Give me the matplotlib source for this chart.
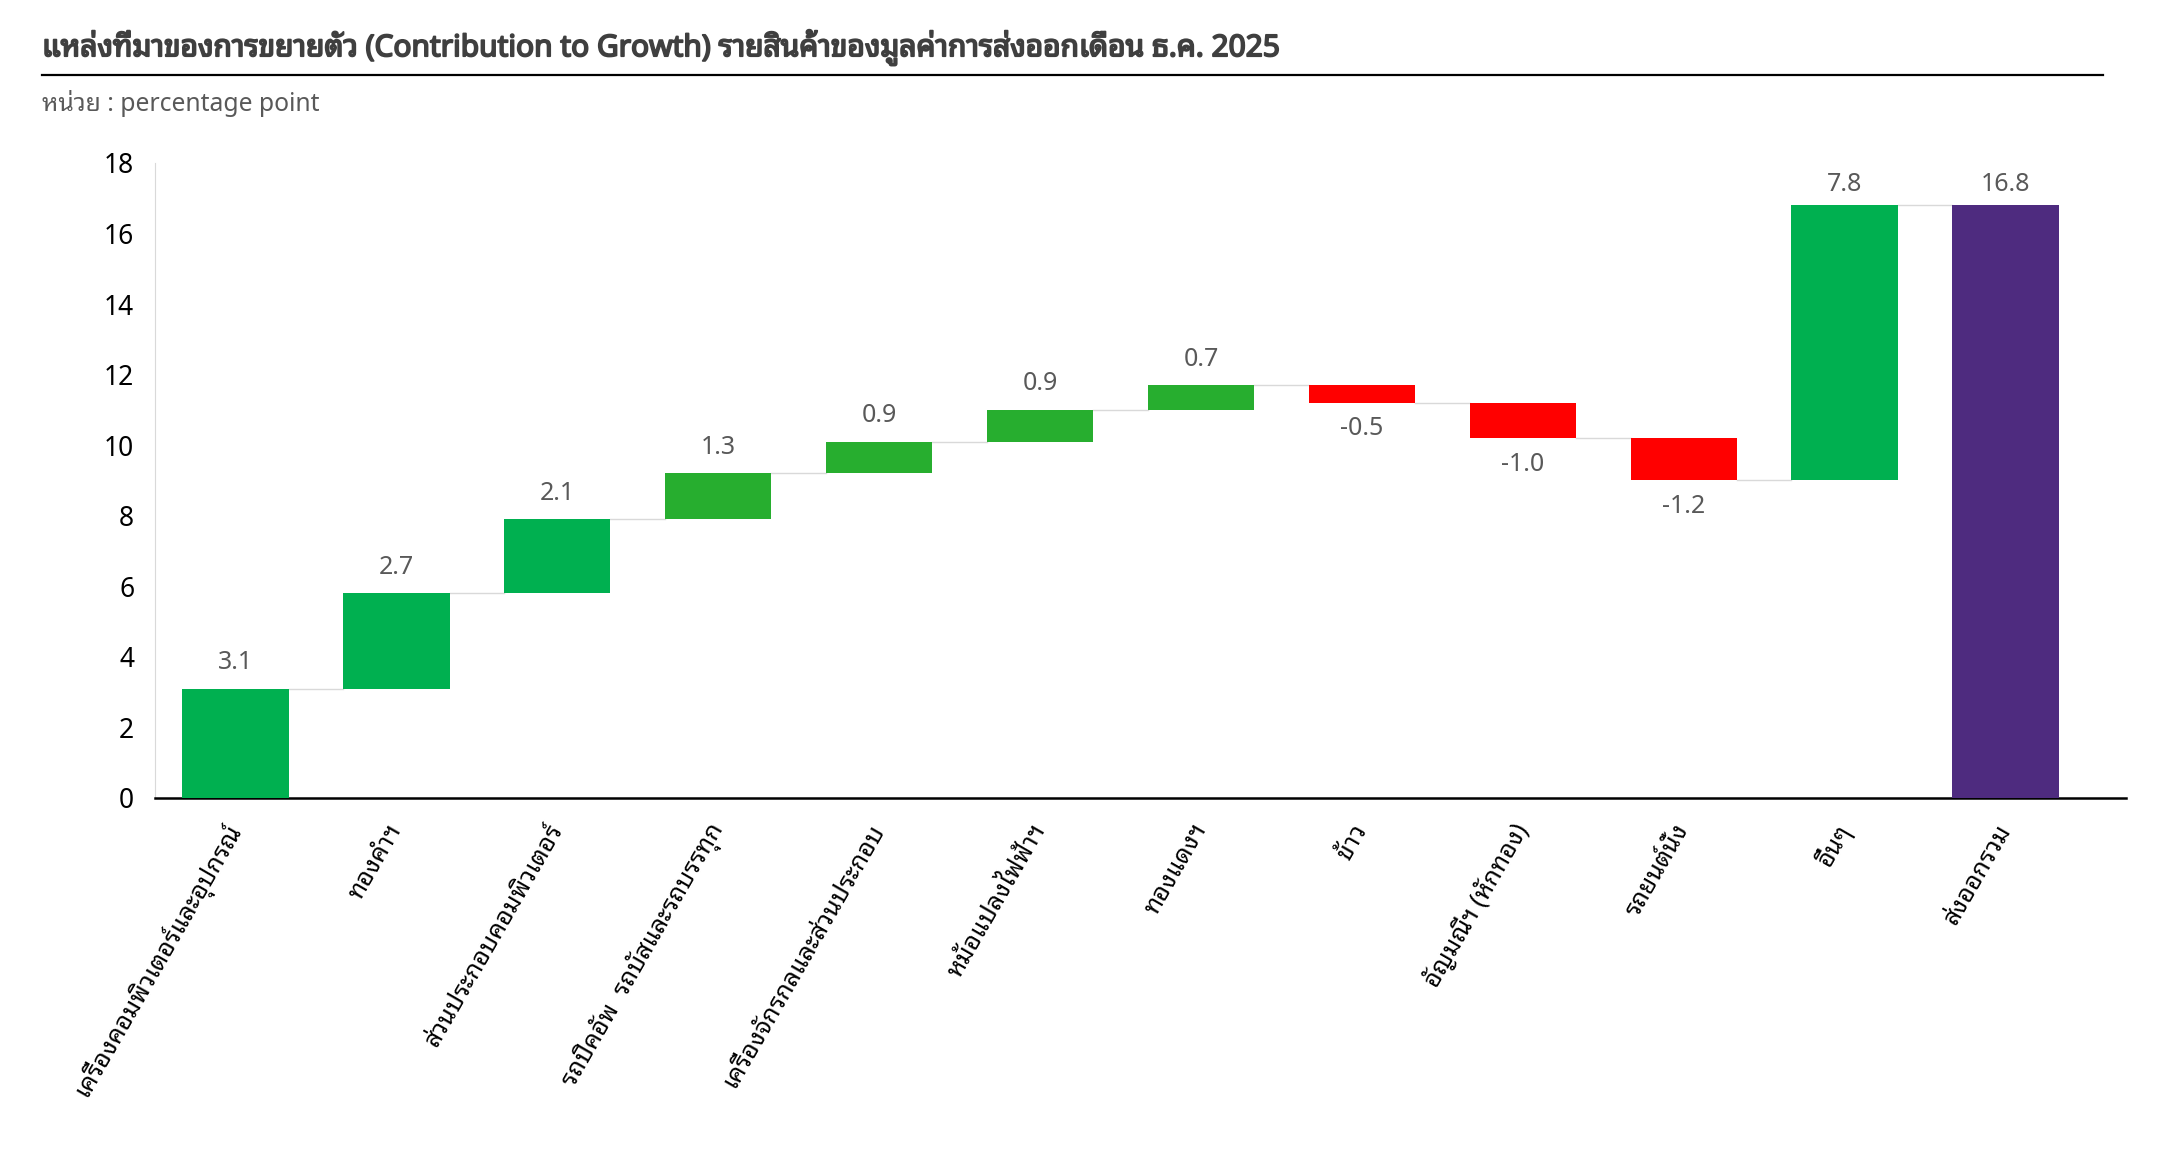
import numpy as np
import matplotlib
matplotlib.use("Agg")
import matplotlib.pyplot as plt
import matplotlib.patheffects as pe

plt.rcParams["font.family"] = ["Noto Sans Thai Looped", "Noto Sans", "DejaVu Sans"]

categories = [
    "เครื่องคอมพิวเตอร์และอุปกรณ์",
    "ทองคำฯ",
    "ส่วนประกอบคอมพิวเตอร์",
    "รถปิคอัพ  รถบัสและรถบรรทุก",
    "เครื่องจักรกลและส่วนประกอบ",
    "หม้อแปลงไฟฟ้าฯ",
    "ทองแดงฯ",
    "ข้าว",
    "อัญมณีฯ (หักทอง)",
    "รถยนต์นั่ง",
    "อื่นๆ",
]
contrib = [3.1, 2.7, 2.1, 1.3, 0.9, 0.9, 0.7, -0.5, -1.0, -1.2, 7.8]
total_label = "ส่งออกรวม"
total = 16.8
bar_colors = ["#00B050", "#00B050", "#00B050", "#27AE2F", "#27AE2F", "#27AE2F",
              "#27AE2F", "#FF0000", "#FF0000", "#FF0000", "#00B050"]
total_color = "#4E2B7F"
yticks = [0, 2, 4, 6, 8, 10, 12, 14, 16, 18]

fig = plt.figure(figsize=(21.66, 11.51), dpi=100)
ax = fig.add_axes([0.0716, 0.3067, 0.910, 0.5517])

vals = np.array(contrib)
ends = np.cumsum(vals)
starts = ends - vals
x = np.arange(len(vals))
w = 0.66

ax.bar(x, vals, bottom=starts, width=w, color=bar_colors, zorder=3)
ax.bar(len(vals), total, width=w, color=total_color, zorder=3)

# connector lines between steps
for i, lv in enumerate(ends):
    ax.plot([i + w / 2, i + 1 - w / 2], [lv, lv], color="#D9D9D9", lw=1, zorder=2)

# value labels (kept inside the plot area at the top)
lab_kw = dict(ha="center", va="center", fontsize=18, color="#595959")
for i, v in enumerate(vals):
    y = min(ends[i] + 0.74, 17.4) if v >= 0 else ends[i] - 0.74
    ax.text(i, y, f"{v:.1f}", **lab_kw)
ax.text(len(vals), min(total + 0.74, 17.4), f"{total:.1f}", **lab_kw)

ax.set_xlim(-0.5, 11.75)
ax.set_ylim(0, 18)
ax.set_yticks(yticks)
ax.tick_params(axis="y", length=0, labelsize=19, pad=15)
ax.tick_params(axis="x", length=0, pad=20)
ax.set_xticks(np.arange(len(vals) + 1))
ax.set_xticklabels(categories + [total_label], rotation=60, ha="right",
                   va="center", rotation_mode="anchor", fontsize=18)
for s in ["top", "right"]:
    ax.spines[s].set_visible(False)
ax.spines["left"].set_color("#D9D9D9")
ax.spines["bottom"].set_color("black")
ax.spines["bottom"].set_linewidth(1.8)

title = fig.text(0.0194, 0.959,
                 "แหล่งที่มาของการขยายตัว (Contribution to Growth) รายสินค้าของมูลค่าการส่งออกเดือน ธ.ค. 2025",
                 fontsize=21.5, color="#3F3F3F", va="center")
title.set_path_effects([pe.withStroke(linewidth=1.3, foreground="#3F3F3F")])
fig.add_artist(plt.Line2D([0.0194, 0.971], [0.935, 0.935], color="black", lw=1.6))
fig.text(0.0194, 0.9105, "หน่วย : percentage point", fontsize=17.8, color="#595959", va="center")

fig.savefig("out.png", dpi=100)
